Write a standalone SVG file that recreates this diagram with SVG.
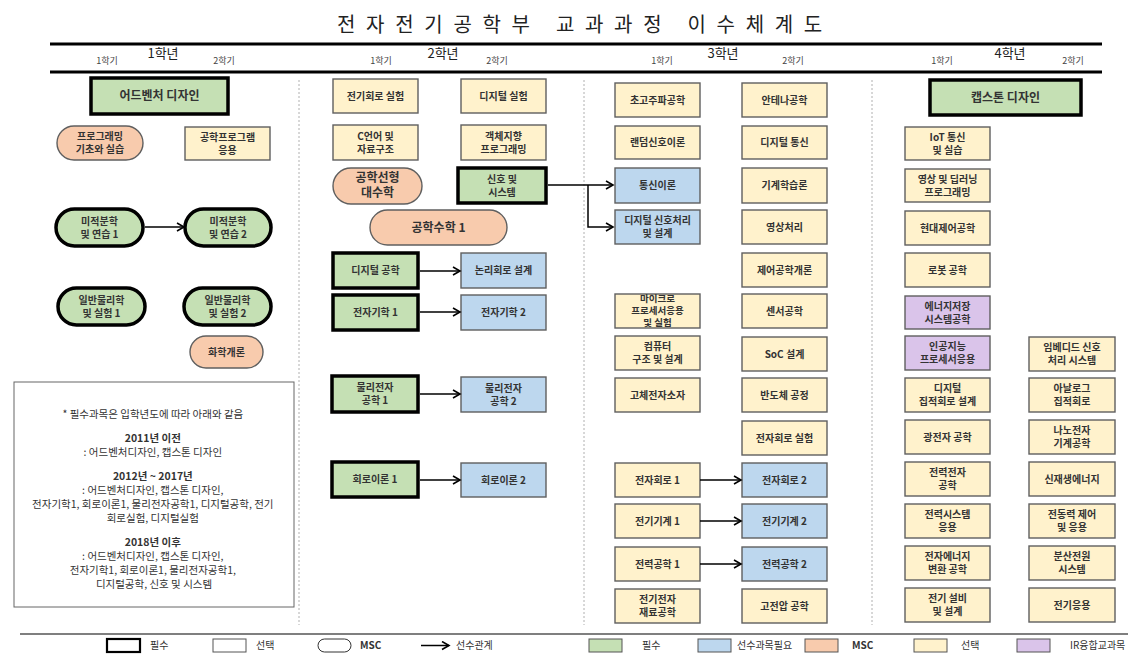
<svg xmlns="http://www.w3.org/2000/svg" width="1147" height="665" viewBox="0 0 1147 665">
<style>
.bx{stroke:#5f5f5f;stroke-width:1.4}
.rq{stroke:#000;stroke-width:3.5}
.g{fill:#c5e0b4}.b{fill:#bdd7ee}.s{fill:#f8cbad}.y{fill:#fff2cc}.p{fill:#dac4ea}.w{fill:#fff}
text{font-family:"Noto Sans CJK KR","Noto Sans",sans-serif;fill:#333}
.t{font-size:10px;font-weight:700;text-anchor:middle}
.t9{font-size:9.5px;font-weight:700;text-anchor:middle}
.t12{font-size:12px;font-weight:700;text-anchor:middle}
.sem{font-size:9px;fill:#444;text-anchor:middle}
.yr{font-size:13px;fill:#222;text-anchor:middle}
.note{font-size:10.5px;text-anchor:middle;fill:#333}
.nb{font-weight:700}
.lg{font-size:10px;fill:#333}
.sep{stroke:#b0b0b0;stroke-width:1;stroke-dasharray:2,2}
.cn{stroke:#000;stroke-width:1.5;fill:none}
</style>
<defs>
<marker id="ah" markerWidth="10" markerHeight="10" refX="8" refY="5" orient="auto" markerUnits="userSpaceOnUse">
<path d="M1,1 L8,5 L1,9" fill="none" stroke="#000" stroke-width="1.6"/>
</marker>
</defs>
<rect width="1147" height="665" fill="#fff"/>

<g id="header">
<text x="337" y="32" style="font-size:20px;letter-spacing:10.7px;fill:#222">전자전기공학부 교과과정 이수체계도</text>
<line x1="50" y1="44" x2="1102" y2="44" stroke="#000" stroke-width="3"/>
<line x1="50" y1="72" x2="1102" y2="72" stroke="#000" stroke-width="3"/>
<text class="sem" x="107" y="64">1학기</text><text class="yr" x="163" y="58">1학년</text><text class="sem" x="224" y="64">2학기</text>
<text class="sem" x="381" y="64">1학기</text><text class="yr" x="443" y="58">2학년</text><text class="sem" x="497" y="64">2학기</text>
<text class="sem" x="662" y="64">1학기</text><text class="yr" x="723" y="58">3학년</text><text class="sem" x="793" y="64">2학기</text>
<text class="sem" x="942" y="64">1학기</text><text class="yr" x="1010" y="58">4학년</text><text class="sem" x="1073" y="64">2학기</text>
</g>

<g id="separators">
<line class="sep" x1="299" y1="80" x2="299" y2="625"/>
<line class="sep" x1="584" y1="80" x2="584" y2="625"/>
<line class="sep" x1="872" y1="80" x2="872" y2="625"/>
</g>

<!-- Year 1 -->
<g id="n-adv"><rect class="g rq" x="91" y="78" width="137" height="36"/><text class="t12" x="159.5" y="100">어드벤처 디자인</text></g>
<g id="n-prog"><rect class="s bx" x="57" y="126" width="86" height="34" rx="17"/><text class="t"><tspan x="100" y="140">프로그래밍</tspan><tspan x="100" y="153">기초와 실습</tspan></text></g>
<g id="n-engprog"><rect class="y bx" x="185" y="127" width="85" height="33"/><text class="t"><tspan x="227.5" y="140.5">공학프로그램</tspan><tspan x="227.5" y="153.5">응용</tspan></text></g>
<g id="n-calc1"><rect class="g rq" x="56" y="209" width="87" height="37" rx="18.5"/><text class="t"><tspan x="99.5" y="224.5">미적분학</tspan><tspan x="99.5" y="237.5">및 연습 1</tspan></text></g>
<g id="n-calc2"><rect class="g rq" x="185" y="209" width="86" height="37" rx="18.5"/><text class="t"><tspan x="228" y="224.5">미적분학</tspan><tspan x="228" y="237.5">및 연습 2</tspan></text></g>
<g id="n-phy1"><rect class="g rq" x="58" y="288" width="87" height="37" rx="18.5"/><text class="t"><tspan x="101.5" y="303.5">일반물리학</tspan><tspan x="101.5" y="316.5">및 실험 1</tspan></text></g>
<g id="n-phy2"><rect class="g rq" x="184" y="288" width="87" height="37" rx="18.5"/><text class="t"><tspan x="227.5" y="303.5">일반물리학</tspan><tspan x="227.5" y="316.5">및 실험 2</tspan></text></g>
<g id="n-chem"><rect class="s bx" x="190" y="336" width="73" height="32" rx="16"/><text class="t" x="226.5" y="355.5">화학개론</text></g>

<g id="note">
<rect x="14" y="382" width="280" height="225" fill="#fff" stroke="#666" stroke-width="1"/>
<text class="note">
<tspan x="154" y="418">* 필수과목은 입학년도에 따라 아래와 같음</tspan>
<tspan x="154" y="442" class="nb">2011년 이전</tspan>
<tspan x="154" y="456">: 어드벤처디자인, 캡스톤 디자인</tspan>
<tspan x="154" y="480" class="nb">2012년 ~ 2017년</tspan>
<tspan x="154" y="494">: 어드벤처디자인, 캡스톤 디자인,</tspan>
<tspan x="154" y="508">전자기학1, 회로이론1, 물리전자공학1, 디지털공학, 전기</tspan>
<tspan x="154" y="522">회로실험, 디지털실험</tspan>
<tspan x="154" y="546" class="nb">2018년 이후</tspan>
<tspan x="154" y="560">: 어드벤처디자인, 캡스톤 디자인,</tspan>
<tspan x="154" y="574">전자기학1, 회로이론1, 물리전자공학1,</tspan>
<tspan x="154" y="588">디지털공학, 신호 및 시스템</tspan>
</text>
</g>

<!-- Year 2 -->
<g id="n-eclab2"><rect class="y bx" x="333" y="79" width="85" height="34"/><text class="t" x="375.5" y="99.5">전기회로 실험</text></g>
<g id="n-diglab"><rect class="y bx" x="461" y="79" width="85" height="34"/><text class="t" x="503.5" y="99.5">디지털 실험</text></g>
<g id="n-clang"><rect class="y bx" x="333" y="125" width="85" height="35"/><text class="t"><tspan x="375.5" y="139.5">C언어 및</tspan><tspan x="375.5" y="152.5">자료구조</tspan></text></g>
<g id="n-oop"><rect class="y bx" x="461" y="125" width="85" height="35"/><text class="t"><tspan x="503.5" y="139.5">객체지향</tspan><tspan x="503.5" y="152.5">프로그래밍</tspan></text></g>
<g id="n-linalg"><rect class="s bx" x="333" y="168" width="89" height="36" rx="18"/><text class="t12"><tspan x="377.5" y="182">공학선형</tspan><tspan x="377.5" y="197">대수학</tspan></text></g>
<g id="n-sig"><rect class="g rq" x="458" y="168" width="88" height="35"/><text class="t"><tspan x="502" y="182.5">신호 및</tspan><tspan x="502" y="195.5">시스템</tspan></text></g>
<g id="n-math1"><rect class="s bx" x="370" y="210" width="137" height="35" rx="17.5"/><text class="t12" x="438.5" y="232">공학수학 1</text></g>
<g id="n-digeng"><rect class="g rq" x="333" y="253" width="85" height="35"/><text class="t" x="375.5" y="274">디지털 공학</text></g>
<g id="n-logic"><rect class="b bx" x="461" y="253" width="85" height="35"/><text class="t" x="503.5" y="274">논리회로 설계</text></g>
<g id="n-em1"><rect class="g rq" x="333" y="295" width="85" height="35"/><text class="t" x="375.5" y="316">전자기학 1</text></g>
<g id="n-em2"><rect class="b bx" x="461" y="295" width="85" height="35"/><text class="t" x="503.5" y="316">전자기학 2</text></g>
<g id="n-pe1"><rect class="g rq" x="332" y="376" width="86" height="36"/><text class="t"><tspan x="375" y="391">물리전자</tspan><tspan x="375" y="404">공학 1</tspan></text></g>
<g id="n-pe2"><rect class="b bx" x="461" y="377" width="85" height="35"/><text class="t"><tspan x="503.5" y="391.5">물리전자</tspan><tspan x="503.5" y="404.5">공학 2</tspan></text></g>
<g id="n-ct1"><rect class="g rq" x="332" y="462" width="86" height="35"/><text class="t" x="375" y="483">회로이론 1</text></g>
<g id="n-ct2"><rect class="b bx" x="461" y="463" width="85" height="34"/><text class="t" x="503.5" y="483.5">회로이론 2</text></g>

<!-- Year 3 -->
<g id="n-microwave"><rect class="y bx" x="615" y="83" width="85" height="34"/><text class="t" x="657.5" y="103.5">초고주파공학</text></g>
<g id="n-antenna"><rect class="y bx" x="742" y="83" width="85" height="34"/><text class="t" x="784.5" y="103.5">안테나공학</text></g>
<g id="n-random"><rect class="y bx" x="615" y="126" width="85" height="33"/><text class="t" x="657.5" y="146">랜덤신호이론</text></g>
<g id="n-digcomm"><rect class="y bx" x="742" y="126" width="85" height="33"/><text class="t" x="784.5" y="146">디지털 통신</text></g>
<g id="n-commth"><rect class="b bx" x="615" y="168" width="85" height="35"/><text class="t" x="657.5" y="189">통신이론</text></g>
<g id="n-ml"><rect class="y bx" x="742" y="168" width="85" height="35"/><text class="t" x="784.5" y="189">기계학습론</text></g>
<g id="n-dsp"><rect class="b bx" x="615" y="210" width="85" height="34"/><text class="t"><tspan x="657.5" y="224">디지털 신호처리</tspan><tspan x="657.5" y="237">및 설계</tspan></text></g>
<g id="n-image"><rect class="y bx" x="742" y="210" width="85" height="34"/><text class="t" x="784.5" y="230.5">영상처리</text></g>
<g id="n-control"><rect class="y bx" x="742" y="253" width="85" height="34"/><text class="t" x="784.5" y="273.5">제어공학개론</text></g>
<g id="n-micro"><rect class="y bx" x="615" y="294" width="85" height="34"/><text class="t9"><tspan x="657.5" y="302">마이크로</tspan><tspan x="657.5" y="314">프로세서응용</tspan><tspan x="657.5" y="326">및 실험</tspan></text></g>
<g id="n-sensor"><rect class="y bx" x="742" y="294" width="85" height="34"/><text class="t" x="784.5" y="314.5">센서공학</text></g>
<g id="n-comparch"><rect class="y bx" x="615" y="336" width="85" height="34"/><text class="t"><tspan x="657.5" y="350">컴퓨터</tspan><tspan x="657.5" y="363">구조 및 설계</tspan></text></g>
<g id="n-soc"><rect class="y bx" x="742" y="337" width="85" height="34"/><text class="t" x="784.5" y="357.5">SoC 설계</text></g>
<g id="n-solid"><rect class="y bx" x="615" y="378" width="85" height="34"/><text class="t" x="657.5" y="398.5">고체전자소자</text></g>
<g id="n-semi"><rect class="y bx" x="742" y="378" width="85" height="34"/><text class="t" x="784.5" y="398.5">반도체 공정</text></g>
<g id="n-eclab3"><rect class="y bx" x="742" y="421" width="85" height="34"/><text class="t" x="784.5" y="441.5">전자회로 실험</text></g>
<g id="n-ec1"><rect class="y bx" x="615" y="463" width="85" height="34"/><text class="t" x="657.5" y="483.5">전자회로 1</text></g>
<g id="n-ec2"><rect class="b bx" x="742" y="463" width="85" height="34"/><text class="t" x="784.5" y="483.5">전자회로 2</text></g>
<g id="n-mach1"><rect class="y bx" x="615" y="504" width="85" height="34"/><text class="t" x="657.5" y="524.5">전기기계 1</text></g>
<g id="n-mach2"><rect class="b bx" x="742" y="504" width="85" height="34"/><text class="t" x="784.5" y="524.5">전기기계 2</text></g>
<g id="n-pw1"><rect class="y bx" x="615" y="547" width="85" height="34"/><text class="t" x="657.5" y="567.5">전력공학 1</text></g>
<g id="n-pw2"><rect class="b bx" x="742" y="547" width="85" height="34"/><text class="t" x="784.5" y="567.5">전력공학 2</text></g>
<g id="n-mat"><rect class="y bx" x="615" y="589" width="85" height="34"/><text class="t"><tspan x="657.5" y="603">전기전자</tspan><tspan x="657.5" y="616">재료공학</tspan></text></g>
<g id="n-hv"><rect class="y bx" x="742" y="589" width="85" height="34"/><text class="t" x="784.5" y="609.5">고전압 공학</text></g>

<!-- Year 4 -->
<g id="n-capstone"><rect class="g rq" x="930" y="80" width="151" height="35"/><text class="t12" x="1005.5" y="101.5">캡스톤 디자인</text></g>
<g id="n-iot"><rect class="y bx" x="905" y="127" width="85" height="33"/><text class="t"><tspan x="947.5" y="140.5">IoT 통신</tspan><tspan x="947.5" y="153.5">및 실습</tspan></text></g>
<g id="n-dl"><rect class="y bx" x="905" y="169" width="85" height="33"/><text class="t"><tspan x="947.5" y="182.5">영상 및 딥러닝</tspan><tspan x="947.5" y="195.5">프로그래밍</tspan></text></g>
<g id="n-modctrl"><rect class="y bx" x="905" y="211" width="85" height="34"/><text class="t" x="947.5" y="231.5">현대제어공학</text></g>
<g id="n-robot"><rect class="y bx" x="905" y="253" width="85" height="34"/><text class="t" x="947.5" y="273.5">로봇 공학</text></g>
<g id="n-ess"><rect class="p bx" x="905" y="296" width="85" height="33"/><text class="t"><tspan x="947.5" y="309.5">에너지저장</tspan><tspan x="947.5" y="322.5">시스템공학</tspan></text></g>
<g id="n-aip"><rect class="p bx" x="905" y="336" width="85" height="34"/><text class="t"><tspan x="947.5" y="350">인공지능</tspan><tspan x="947.5" y="363">프로세서응용</tspan></text></g>
<g id="n-embedded"><rect class="y bx" x="1029" y="337" width="86" height="34"/><text class="t"><tspan x="1072" y="351">임베디드 신호</tspan><tspan x="1072" y="364">처리 시스템</tspan></text></g>
<g id="n-dic"><rect class="y bx" x="905" y="378" width="85" height="34"/><text class="t"><tspan x="947.5" y="392">디지털</tspan><tspan x="947.5" y="405">집적회로 설계</tspan></text></g>
<g id="n-aic"><rect class="y bx" x="1029" y="378" width="86" height="34"/><text class="t"><tspan x="1072" y="392">아날로그</tspan><tspan x="1072" y="405">집적회로</tspan></text></g>
<g id="n-opto"><rect class="y bx" x="905" y="420" width="85" height="34"/><text class="t" x="947.5" y="440.5">광전자 공학</text></g>
<g id="n-nano"><rect class="y bx" x="1029" y="420" width="86" height="34"/><text class="t"><tspan x="1072" y="434">나노전자</tspan><tspan x="1072" y="447">기계공학</tspan></text></g>
<g id="n-powerel"><rect class="y bx" x="905" y="462" width="85" height="34"/><text class="t"><tspan x="947.5" y="476">전력전자</tspan><tspan x="947.5" y="489">공학</tspan></text></g>
<g id="n-renew"><rect class="y bx" x="1029" y="462" width="86" height="34"/><text class="t" x="1072" y="482.5">신재생에너지</text></g>
<g id="n-pss"><rect class="y bx" x="905" y="504" width="85" height="34"/><text class="t"><tspan x="947.5" y="518">전력시스템</tspan><tspan x="947.5" y="531">응용</tspan></text></g>
<g id="n-motor"><rect class="y bx" x="1029" y="504" width="86" height="34"/><text class="t"><tspan x="1072" y="518">전동력 제어</tspan><tspan x="1072" y="531">및 응용</tspan></text></g>
<g id="n-energy"><rect class="y bx" x="905" y="546" width="85" height="34"/><text class="t"><tspan x="947.5" y="560">전자에너지</tspan><tspan x="947.5" y="573">변환 공학</tspan></text></g>
<g id="n-dist"><rect class="y bx" x="1029" y="546" width="86" height="34"/><text class="t"><tspan x="1072" y="560">분산전원</tspan><tspan x="1072" y="573">시스템</tspan></text></g>
<g id="n-facility"><rect class="y bx" x="905" y="588" width="85" height="34"/><text class="t"><tspan x="947.5" y="602">전기 설비</tspan><tspan x="947.5" y="615">및 설계</tspan></text></g>
<g id="n-app"><rect class="y bx" x="1029" y="588" width="86" height="34"/><text class="t" x="1072" y="608.5">전기응용</text></g>

<g id="connectors">
<line class="cn" x1="145" y1="227" x2="184" y2="227" marker-end="url(#ah)"/>
<line class="cn" x1="420" y1="271" x2="460" y2="271" marker-end="url(#ah)"/>
<line class="cn" x1="420" y1="312" x2="460" y2="312" marker-end="url(#ah)"/>
<line class="cn" x1="420" y1="394" x2="460" y2="394" marker-end="url(#ah)"/>
<line class="cn" x1="420" y1="480" x2="460" y2="480" marker-end="url(#ah)"/>
<path class="cn" d="M548,185 H613" marker-end="url(#ah)"/>
<path class="cn" d="M588,185 V227 H613" marker-end="url(#ah)"/>
<line class="cn" x1="700" y1="480" x2="741" y2="480" marker-end="url(#ah)"/>
<line class="cn" x1="700" y1="521" x2="741" y2="521" marker-end="url(#ah)"/>
<line class="cn" x1="700" y1="564" x2="741" y2="564" marker-end="url(#ah)"/>
</g>

<g id="legend">
<line x1="20" y1="634" x2="1128" y2="634" stroke="#555" stroke-width="1.5"/>
<rect x="107" y="639" width="33" height="13" fill="#fff" stroke="#000" stroke-width="2.2"/><text class="lg" x="150" y="649">필수</text>
<rect x="213" y="639" width="33" height="13" fill="#fff" stroke="#555" stroke-width="1"/><text class="lg" x="256" y="649">선택</text>
<rect x="318" y="639" width="33" height="13" rx="6.5" fill="#fff" stroke="#333" stroke-width="1"/><text class="lg" x="360" y="649" style="font-weight:700">MSC</text>
<line class="cn" x1="421" y1="645.5" x2="449" y2="645.5" marker-end="url(#ah)"/><text class="lg" x="456" y="649">선수관계</text>
<rect class="g" x="589" y="639" width="33" height="13" stroke="#555" stroke-width="1"/><text class="lg" x="642" y="649">필수</text>
<rect class="b" x="698" y="639" width="33" height="13" stroke="#555" stroke-width="1"/><text class="lg" x="737" y="649">선수과목필요</text>
<rect class="s" x="805" y="639" width="33" height="13" stroke="#555" stroke-width="1"/><text class="lg" x="852" y="649" style="font-weight:700">MSC</text>
<rect class="y" x="914" y="639" width="33" height="13" stroke="#555" stroke-width="1"/><text class="lg" x="961" y="649">선택</text>
<rect class="p" x="1017" y="639" width="33" height="13" stroke="#555" stroke-width="1"/><text class="lg" x="1070" y="649">IR융합교과목</text>
</g>
</svg>
